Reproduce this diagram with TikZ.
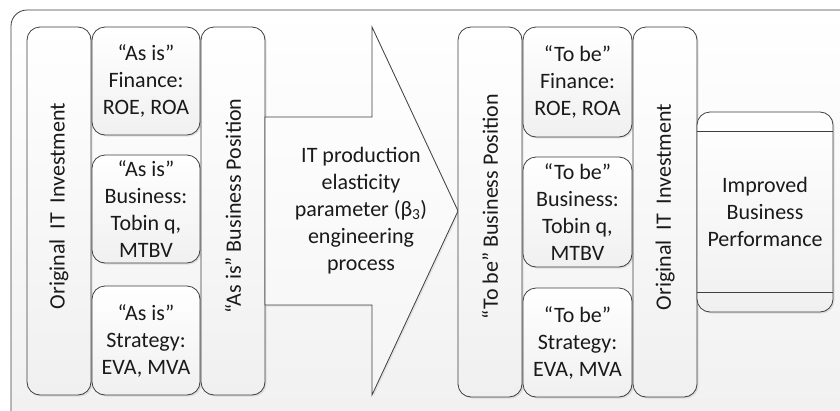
\documentclass[tikz,border=0pt]{standalone}
\usepackage{fontspec}
\setmainfont{Carlito}
\usetikzlibrary{shadows}
\definecolor{edge}{HTML}{3F3F3F}
\definecolor{txt}{HTML}{1A1A1A}
\definecolor{shadeb}{HTML}{F0F0F0}
\definecolor{framebg}{HTML}{F0F0F0}
\definecolor{arrowbg}{HTML}{F5F5F5}
\begin{document}
\begin{tikzpicture}[x=1pt,y=-1pt,
  lbl/.style={text=txt, inner sep=0pt, align=center, font=\fontsize{22}{27}\selectfont},
  box/.style={draw=edge, line width=0.8pt, rounded corners=13pt, top color=white, bottom color=shadeb,
    inner sep=0pt, drop shadow={opacity=0.2, shadow xshift=1.5pt, shadow yshift=-1.5pt}},
  vtext/.style={lbl, rotate=90},
]
\useasboundingbox (0,0) rectangle (840,410);
\begin{scope}
  \clip (0,0) rectangle (840,410);
  \path[draw=edge, line width=0.8pt, rounded corners=16pt, top color=white, bottom color=framebg]
    (11,10) rectangle (870,440);
\end{scope}

% left group
\node[box, minimum width=64pt, minimum height=368pt] (origL) at (59,211) {};
\node[vtext] (origLt) at (59,206) {Original\ \ IT\ \ Investment};
\node[box, minimum width=108pt, minimum height=108pt] (finL) at (146,81) {};
\node[lbl] (finLt) at (finL) {“As is”\\Finance:\\ROE, ROA};
\node[box, minimum width=108pt, minimum height=108pt] (busL) at (146,209) {};
\node[lbl] (busLt) at (busL) {“As is”\\Business:\\Tobin q,\\MTBV};
\node[box, minimum width=108pt, minimum height=109pt] (strL) at (146,340.5) {};
\node[lbl] (strLt) at (strL) {“As is”\\Strategy:\\EVA, MVA};
\node[box, minimum width=64pt, minimum height=368pt] (posL) at (233,211) {};
\node[vtext] (posLt) at (233,206) {“As is” Business Position};

% arrow
\path[draw=edge, line width=0.8pt, top color=white, bottom color=arrowbg,
  drop shadow={opacity=0.15, shadow xshift=1.5pt, shadow yshift=-1.5pt}]
  (265,117) -- (372,117) -- (372,27) -- (458,211) -- (372,395) -- (372,305) -- (265,305) -- cycle;
\node[lbl] (arrowt) at (361,211) {IT production\\elasticity\\parameter (β\textsubscript{3})\\engineering\\process};

% right group
\node[box, minimum width=64pt, minimum height=370pt] (posR) at (490,212) {};
\node[vtext] (posRt) at (490,207) {“To be” Business Position};
\node[box, minimum width=109pt, minimum height=110pt] (finR) at (577.5,82) {};
\node[lbl] (finRt) at (finR) {“To be”\\Finance:\\ROE, ROA};
\node[box, minimum width=109pt, minimum height=110pt] (busR) at (577.5,212) {};
\node[lbl] (busRt) at (busR) {“To be”\\Business:\\Tobin q,\\MTBV};
\node[box, minimum width=109pt, minimum height=109pt] (strR) at (577.5,342.5) {};
\node[lbl] (strRt) at (strR) {“To be”\\Strategy:\\EVA, MVA};
\node[box, minimum width=64pt, minimum height=370pt] (origR) at (665,212) {};
\node[vtext] (origRt) at (665,207) {Original\ \ IT\ \ Investment};

\node[box, minimum width=136pt, minimum height=200pt] (impR) at (765,212) {};
\draw[edge, line width=0.8pt] ([yshift=-20pt]impR.north west) -- ([yshift=-20pt]impR.north east);
\draw[edge, line width=0.8pt] ([yshift=20pt]impR.south west) -- ([yshift=20pt]impR.south east);
\node[lbl] (impRt) at (impR) {Improved\\Business\\Performance};
\end{tikzpicture}
\end{document}
